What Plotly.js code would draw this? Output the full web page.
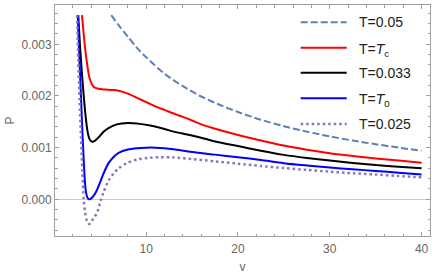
<!DOCTYPE html>
<html>
<head>
<meta charset="utf-8">
<script src="https://cdn.plot.ly/plotly-3.0.1.min.js"></script>
<style>
html,body{margin:0;padding:0;background:#fff;}
#chart{width:436px;height:278px;}
</style>
</head>
<body>
<div id="chart"></div>
<script>
// Series names
var names = ["T=0.05", "T=<i>T</i><sub>c</sub>", "T=0.033", "T=<i>T</i><sub>0</sub>", "T=0.025"];

// T = 0.05 (dashed)
var v_t005 = [6.2, 7, 8, 9, 10, 12, 14, 16, 18, 20, 22.5, 25, 27.5, 30, 32.5, 35, 37.5, 40];
var p_t005 = [0.003565, 0.00337, 0.00315, 0.00293, 0.00275, 0.00243, 0.00219, 0.00199, 0.00183, 0.00169, 0.00154, 0.001415, 0.00131, 0.001217, 0.001138, 0.001066, 0.001, 0.00094];

// T = Tc (red)
var v_tc = [3.01, 3.19, 3.37, 3.6, 3.8, 4.0, 4.27, 4.8, 5.5, 6.3, 7, 8, 9, 10, 11, 12, 13, 14, 15, 16, 18, 20, 22.5, 25, 27.5, 30, 32.5, 35, 37.5, 40];
var p_tc = [0.003565, 0.00321, 0.00289, 0.00258, 0.00237, 0.00226, 0.00218, 0.00214, 0.002125, 0.002115, 0.0021, 0.002045, 0.001965, 0.00188, 0.0018, 0.00173, 0.00166, 0.001595, 0.001525, 0.00145, 0.00134, 0.001245, 0.00114, 0.00104, 0.00096, 0.000893, 0.00084, 0.00079, 0.00075, 0.000708];

// T = 0.033 (black)
var v_t033 = [2.6, 2.8, 3.0, 3.2, 3.4, 3.6, 3.8, 4.0, 4.17, 4.4, 4.82, 5.36, 5.9, 6.8, 8, 9.35, 10.43, 12, 13, 15, 17.5, 20, 22.5, 25, 27.5, 30, 32.5, 35, 37.5, 40];
var p_t033 = [0.003565, 0.00295, 0.00245, 0.002, 0.00162, 0.00133, 0.00118, 0.001125, 0.001114, 0.00113, 0.0012, 0.001308, 0.00138, 0.00145, 0.001478, 0.00146, 0.001428, 0.00136, 0.00131, 0.001235, 0.00112, 0.00103, 0.00094, 0.00086, 0.0008, 0.00075, 0.000705, 0.000665, 0.00063, 0.0006];

// T = T0 (blue)
var v_t0 = [2.55, 2.7, 2.85, 3.0, 3.12, 3.25, 3.37, 3.5, 3.65, 3.8, 3.95, 4.15, 4.4, 4.64, 5.0, 5.36, 5.9, 6.45, 7, 8, 9, 10, 11, 12, 13, 15, 17.5, 20, 22.5, 25, 27.5, 30, 32.5, 35, 37.5, 40];
var p_t0 = [0.003565, 0.00285, 0.0022, 0.00155, 0.00105, 0.00058, 0.00025, 0.00009, 0.00002, 0.0, 0.00001, 0.00004, 0.0001, 0.00018, 0.00034, 0.0005, 0.0007, 0.00082, 0.0009, 0.000965, 0.00099, 0.001, 0.001, 0.00099, 0.00097, 0.000915, 0.000865, 0.000815, 0.00076, 0.0007, 0.000655, 0.000615, 0.00058, 0.00055, 0.000515, 0.00048];

// T = 0.025 (dotted)
var v_t025 = [2.47, 2.6, 2.75, 2.9, 3.05, 3.19, 3.35, 3.48, 3.62, 3.8, 3.95, 4.15, 4.4, 4.64, 5.0, 5.36, 5.9, 6.45, 7, 7.9, 9, 10.43, 11.5, 13, 15, 17.5, 20, 22.5, 25, 27.5, 30, 32.5, 35, 37.5, 40];
var p_t025 = [0.003565, 0.0027, 0.0019, 0.0012, 0.00055, 0.0, -0.00025, -0.00038, -0.00045, -0.000478, -0.00046, -0.0004, -0.00033, -0.00027, -0.00005, 0.00014, 0.00036, 0.0005, 0.0006, 0.0007, 0.00077, 0.000805, 0.000815, 0.00081, 0.00078, 0.000735, 0.00069, 0.000645, 0.000605, 0.00057, 0.000535, 0.000505, 0.00048, 0.00045, 0.000426];

// Tick values
var xTicks = [10, 20, 30, 40];
var yTicks = [0, 0.001, 0.002, 0.003];

var colors = ["#5E81B5", "#FF0000", "#000000", "#0000FF", "#8778B3"];
var dashes = ["7px,3px", "solid", "solid", "solid", "2.5px,3px"];
var widths = [2, 2, 2, 2, 2.5];
var xs = [v_t005, v_tc, v_t033, v_t0, v_t025];
var ys = [p_t005, p_tc, p_t033, p_t0, p_t025];

var data = xs.map(function (x, i) {
  return {
    x: x, y: ys[i], name: names[i], type: "scatter", mode: "lines",
    showlegend: false,
    line: {color: colors[i], width: widths[i], dash: dashes[i], shape: "spline", smoothing: 0.8},
    hoverinfo: "skip"
  };
});

// Legend drawn in the plot area (paper coordinates)
var legX0 = 0.6552, legX1 = 0.7779, legTextX = 0.8045;
var legRowY = [0.9251, 0.8152, 0.7069, 0.5961, 0.4848];
var shapes = [], annotations = [];
names.forEach(function (n, i) {
  shapes.push({
    type: "line", xref: "paper", yref: "paper",
    x0: legX0, x1: legX1, y0: legRowY[i], y1: legRowY[i],
    line: {color: colors[i], width: widths[i], dash: dashes[i]}
  });
  annotations.push({
    xref: "paper", yref: "paper", x: legTextX, y: legRowY[i],
    xanchor: "left", yanchor: "middle", showarrow: false,
    text: n, yshift: (n.indexOf("<sub>") >= 0 ? -2 : 0),
    font: {family: "Liberation Sans, Arial, sans-serif", size: 14, color: "#222222"}
  });
});

var axisCommon = {
  showgrid: false,
  showline: true,
  linecolor: "#a0a0a0",
  linewidth: 1,
  mirror: "ticks",
  ticks: "inside",
  ticklen: 4,
  tickwidth: 1,
  tickcolor: "#a0a0a0",
  tickfont: {family: "Liberation Sans, Arial, sans-serif", size: 12, color: "#666666"},
  title: {font: {family: "Liberation Sans, Arial, sans-serif", size: 12, color: "#666666"}}
};

var layout = {
  width: 436, height: 278,
  margin: {l: 55, r: 6, t: 5, b: 42, pad: 0},
  paper_bgcolor: "#ffffff",
  plot_bgcolor: "#ffffff",
  showlegend: false,
  shapes: shapes,
  annotations: annotations,
  xaxis: Object.assign({}, axisCommon, {
    range: [0.07, 40.92],
    tickvals: xTicks,
    ticktext: xTicks.map(String),
    zeroline: false,
    ticklabelstandoff: 2,
    minor: {dtick: 2, tick0: 0, ticks: "inside", ticklen: 2.5, tickcolor: "#a0a0a0", showgrid: false},
    title: Object.assign({}, axisCommon.title, {text: "v", standoff: 7})
  }),
  yaxis: Object.assign({}, axisCommon, {
    range: [-0.00071, 0.003761],
    tickvals: yTicks,
    tickformat: ".3f",
    zeroline: true,
    zerolinecolor: "#cccccc",
    zerolinewidth: 1,
    minor: {dtick: 0.0002, tick0: 0, ticks: "inside", ticklen: 2.5, tickcolor: "#a0a0a0", showgrid: false},
    title: Object.assign({}, axisCommon.title, {text: "P", standoff: 4})
  })
};

Plotly.newPlot("chart", data, layout, {staticPlot: true, displayModeBar: false});
</script>
</body>
</html>
